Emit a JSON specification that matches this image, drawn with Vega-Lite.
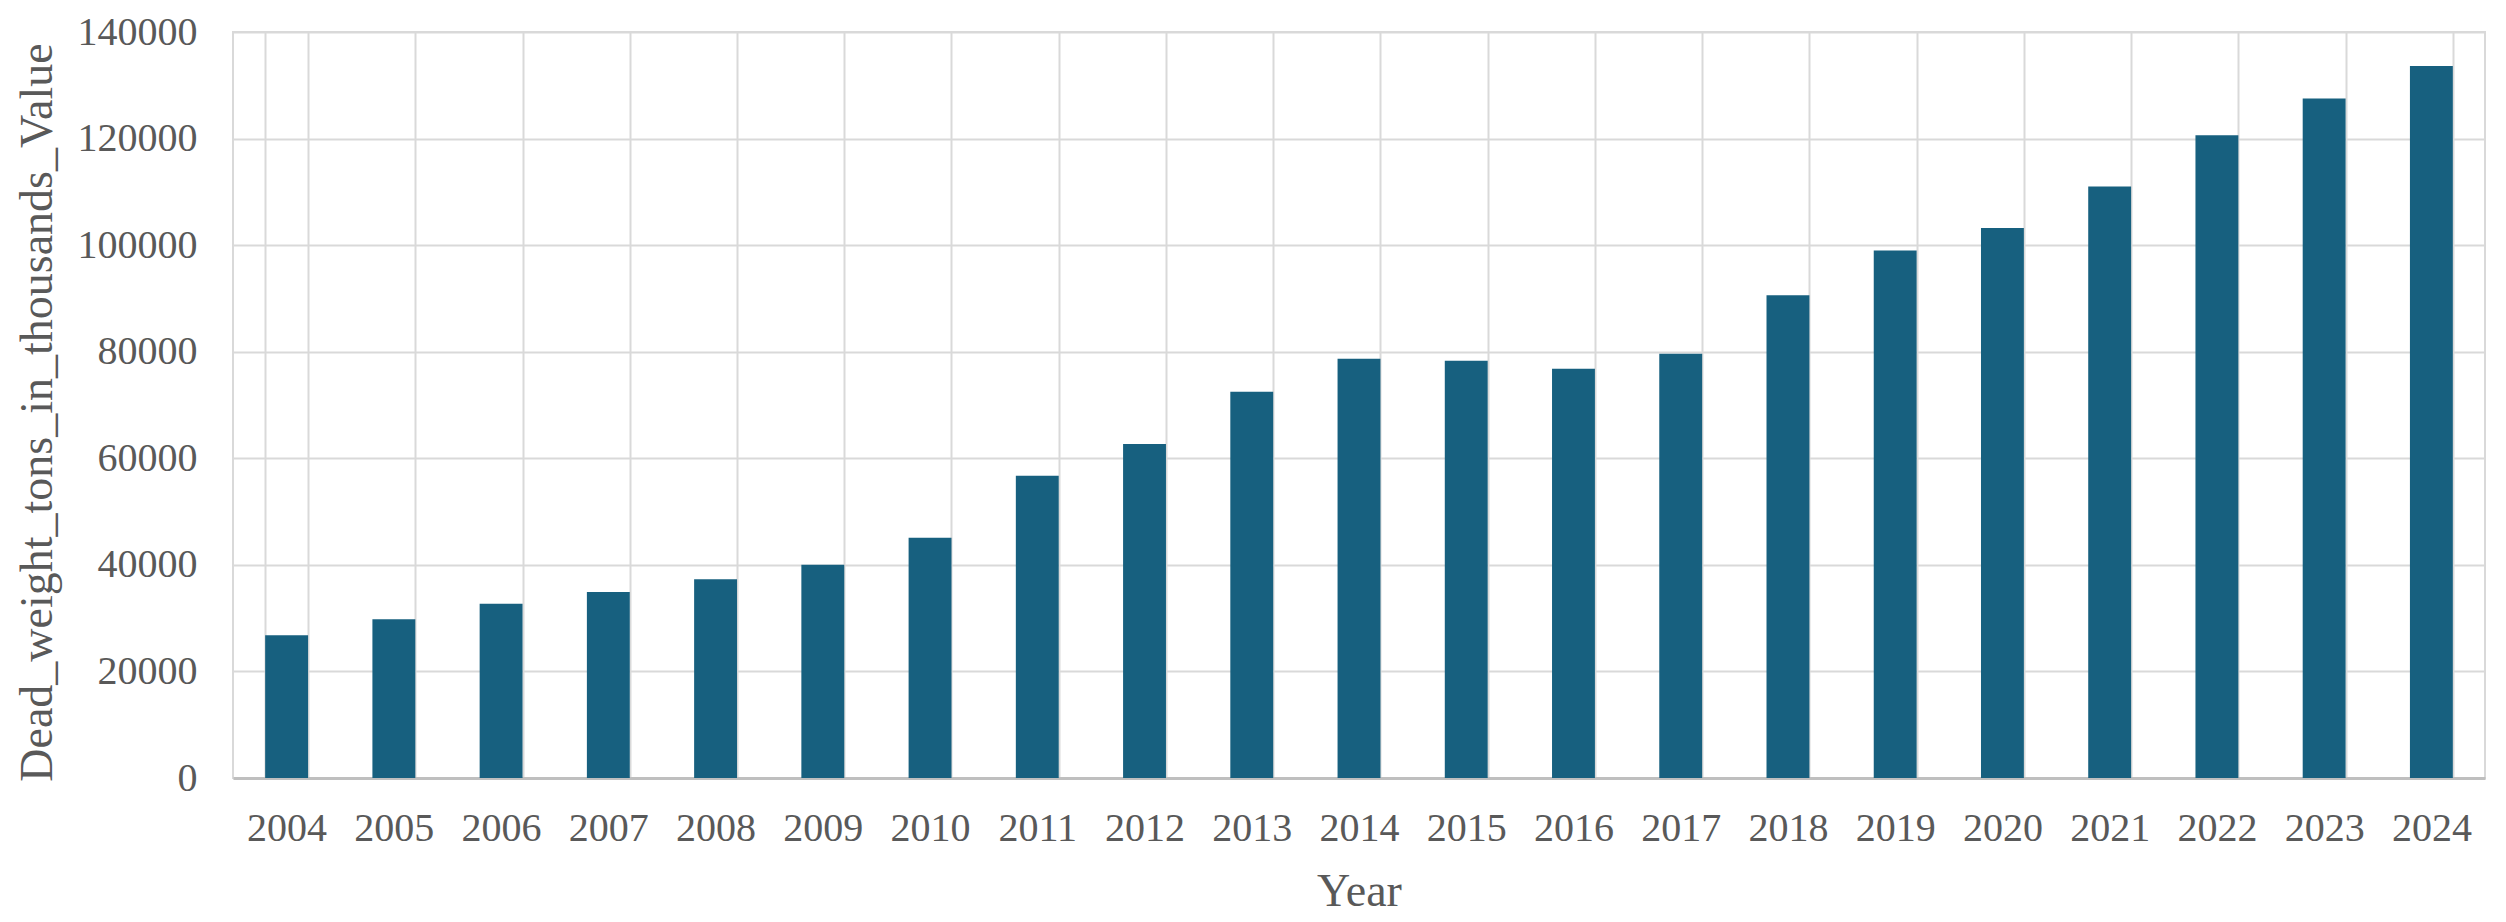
{
  "$schema": "https://vega.github.io/schema/vega-lite/v6.json",
  "width": 2252,
  "height": 746,
  "autosize": {"type": "none"},
  "padding": {"left": 233, "top": 32, "right": 21, "bottom": 144},
  "background": "white",
  "config": {
    "view": {"stroke": "#d9d9d9", "strokeWidth": 2},
    "font": "Liberation Serif"
  },
  "data": {
    "values": [
      {"Year": "2004", "Dead_weight_tons_in_thousands_Value": 26800},
      {"Year": "2005", "Dead_weight_tons_in_thousands_Value": 29800},
      {"Year": "2006", "Dead_weight_tons_in_thousands_Value": 32700},
      {"Year": "2007", "Dead_weight_tons_in_thousands_Value": 34900},
      {"Year": "2008", "Dead_weight_tons_in_thousands_Value": 37300},
      {"Year": "2009", "Dead_weight_tons_in_thousands_Value": 40000},
      {"Year": "2010", "Dead_weight_tons_in_thousands_Value": 45100},
      {"Year": "2011", "Dead_weight_tons_in_thousands_Value": 56700},
      {"Year": "2012", "Dead_weight_tons_in_thousands_Value": 62700},
      {"Year": "2013", "Dead_weight_tons_in_thousands_Value": 72500},
      {"Year": "2014", "Dead_weight_tons_in_thousands_Value": 78700},
      {"Year": "2015", "Dead_weight_tons_in_thousands_Value": 78300},
      {"Year": "2016", "Dead_weight_tons_in_thousands_Value": 76800},
      {"Year": "2017", "Dead_weight_tons_in_thousands_Value": 79600},
      {"Year": "2018", "Dead_weight_tons_in_thousands_Value": 90600},
      {"Year": "2019", "Dead_weight_tons_in_thousands_Value": 99000},
      {"Year": "2020", "Dead_weight_tons_in_thousands_Value": 103200},
      {"Year": "2021", "Dead_weight_tons_in_thousands_Value": 111000},
      {"Year": "2022", "Dead_weight_tons_in_thousands_Value": 120600},
      {"Year": "2023", "Dead_weight_tons_in_thousands_Value": 127500},
      {"Year": "2024", "Dead_weight_tons_in_thousands_Value": 133600}
    ]
  },
  "mark": {"type": "bar", "color": "#17607f"},
  "encoding": {
    "x": {
      "field": "Year",
      "type": "ordinal",
      "scale": {"paddingInner": 0.6, "paddingOuter": 0.3},
      "axis": {
        "title": "Year",
        "labelAngle": 0,
        "labelFontSize": 40,
        "labelColor": "#595959",
        "labelPadding": 30,
        "ticks": false,
        "tickSize": 0,
        "tickBand": "extent",
        "grid": true,
        "gridColor": "#d9d9d9",
        "gridWidth": 2,
        "domainColor": "#bfbfbf",
        "domainWidth": 3,
        "titleFontSize": 46,
        "titleFontWeight": "normal",
        "titleColor": "#595959",
        "titlePadding": 21
      }
    },
    "y": {
      "field": "Dead_weight_tons_in_thousands_Value",
      "type": "quantitative",
      "scale": {"domain": [0, 140000], "nice": false},
      "axis": {
        "title": "Dead_weight_tons_in_thousands_Value",
        "values": [0, 20000, 40000, 60000, 80000, 100000, 120000, 140000],
        "format": "d",
        "labelFontSize": 40,
        "labelColor": "#595959",
        "labelPadding": 36,
        "ticks": false,
        "tickSize": 0,
        "domain": false,
        "grid": true,
        "gridColor": "#d9d9d9",
        "gridWidth": 2,
        "titleFontSize": 46,
        "titleFontWeight": "normal",
        "titleColor": "#595959",
        "titlePadding": 16,
        "titleY": 380
      }
    }
  }
}
